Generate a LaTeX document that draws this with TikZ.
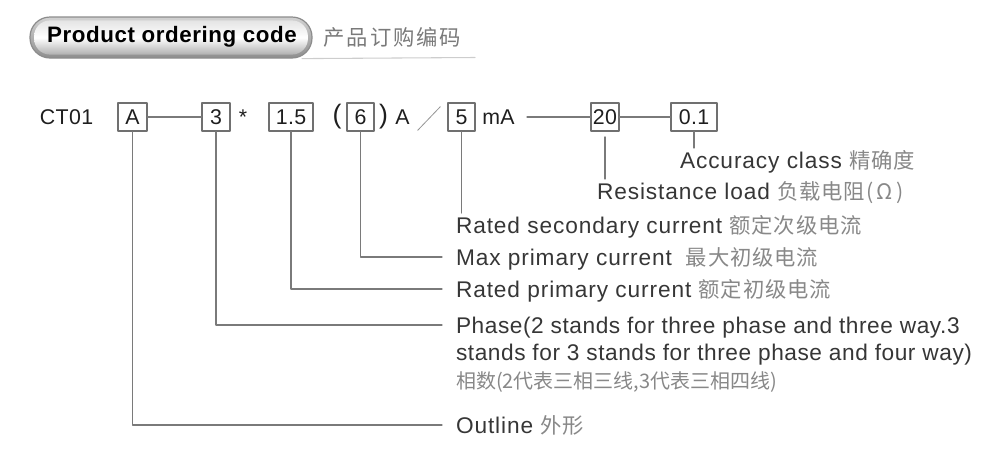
\documentclass[tikz,border=0pt]{standalone}
\usepackage{fontspec}
\setmainfont{Liberation Sans}
\newfontfamily\cdfam[LetterSpace=2]{Liberation Sans}
\newfontfamily\lbfam[LetterSpace=4]{Liberation Sans}
\newfontfamily\phfam[LetterSpace=2.5]{Liberation Sans}
\newfontfamily\hdfam[LetterSpace=2.5]{Liberation Sans}
\newfontfamily\cnfam[LetterSpace=4]{Noto Sans CJK SC}
\newfontfamily\cnhdfam[LetterSpace=9]{Noto Sans CJK SC}
\usepackage{xcolor}
\usepackage{tikz}
\definecolor{ink}{HTML}{1E1E1E}
\definecolor{labelgray}{HTML}{363636}
\definecolor{cngray}{HTML}{888888}
\definecolor{wiregray}{HTML}{7A7A7A}
\definecolor{boxgray}{HTML}{707070}
\definecolor{pillrim}{HTML}{8C8C8C}
\definecolor{pilltop}{HTML}{D2D2D2}
\definecolor{pillbot}{HTML}{8E8E8E}
\definecolor{rulegray}{HTML}{CDCDCD}
\newcommand\cdfont{\cdfam\fontsize{16}{19}\selectfont}
\newcommand\lbfont{\lbfam\fontsize{17}{20}\selectfont}
\newcommand\phfont{\phfam\fontsize{17}{20}\selectfont}
\newcommand\cntext[1]{{\cnfam\fontsize{16}{19}\selectfont\color{cngray}#1}}
\tikzset{
    every picture/.style={line cap=round,line join=round},
    pill/.style={draw=pillrim,line width=0.9pt,rounded corners=15pt,
      top color=pilltop,bottom color=pillbot,
      minimum width=211.5pt,minimum height=30.75pt,inner sep=0pt},
    codebox/.style={draw=boxgray,line width=0.9pt,inner sep=0pt,
      minimum height=21pt,text height=11.4pt,text depth=0pt,font=\cdfont,text=ink},
    codetext/.style={inner sep=0pt,text height=11.4pt,text depth=0pt,
      font=\cdfont,text=ink},
    paren/.style={inner sep=0pt,font=\cdfam\fontsize{20}{20}\selectfont,text=ink},
    wire/.style={draw=wiregray,line width=0.9pt},
    lbl/.style={anchor=west,inner xsep=0pt,inner ysep=2pt,outer xsep=10.5pt,
      outer ysep=0pt,text height=13pt,text depth=1pt,font=\lbfont,text=labelgray},
    phaselbl/.style={lbl,font=\phfont}
}

\begin{document}
\begin{tikzpicture}[x=0.75pt,y=-0.75pt]
  \useasboundingbox (0,0) rectangle (994,454);
  % heading
  \node[pill] (pill) at (171,37.5) {};
  \shade[rounded corners=12pt,top color=pilltop!60,bottom color=pillbot!70,middle color=white]
    ([xshift=3.5pt,yshift=3pt]pill.south west) rectangle ([xshift=-3.5pt,yshift=-3pt]pill.north east);
  \node[font=\hdfam\bfseries\fontsize{16.75}{20}\selectfont,text=black] (title) at (172,37) {Product ordering code};
  \node[font=\cnhdfam\fontsize{16}{19}\selectfont,text=cngray!90!black] (titlecn) at (392.5,37) {产品订购编码};
  \coordinate (ruleend) at (475,57.5);
  \draw[rulegray,line width=0.8pt] ([xshift=-8pt]pill.south east) -- (ruleend);

  % code row
  \node[codetext] (ct) at (66.5,117) {CT01};
  \node[codebox,minimum width=21.75pt] (bA) at (132.5,117) {A};
  \node[codebox,minimum width=21pt] (b3) at (216,117) {3};
  \node[codetext,anchor=base] (star) at (243,124) {*};
  \node[codebox,minimum width=33pt] (b15) at (291,117) {1.5};
  \node[paren] (lp) at (337,117) {(};
  \node[codebox,minimum width=20.25pt] (b6) at (360.5,117) {6};
  \node[paren] (rp) at (383.5,117) {)};
  \node[codetext] (unitA) at (402.5,117) {A};
  \node[minimum width=16.5pt,minimum height=17.25pt,inner sep=0pt] (slash) at (429,118.5) {};
  \draw[wiregray!80,line width=0.6pt] (slash.south west) -- (slash.north east);
  \node[codebox,minimum width=20.25pt] (b5) at (461.5,117) {5};
  \node[codetext] (mA) at (498.5,117) {mA};
  \node[codebox,minimum width=21pt] (b20) at (605,117) {20};
  \node[codebox,minimum width=34.5pt] (b01) at (694,117) {0.1};
  \draw[wire] (bA) -- (b3);
  \draw[wire,shorten <=9pt] (mA) -- (b20);
  \draw[wire] (b20) -- (b01);

  % labels
  \node[lbl] (lAcc) at (666,160) {Accuracy class \cntext{精确度}};
  \node[lbl] (lRes) at (583,191) {Resistance load \cntext{负载电阻(\,Ω\,)}};
  \node[lbl] (lSec) at (442,225) {Rated secondary current \cntext{额定次级电流}};
  \node[lbl] (lMax) at (442,257) {Max primary current\hspace{5pt} \cntext{最大初级电流}};
  \node[lbl] (lPri) at (442,289) {Rated primary current \cntext{额定初级电流}};
  \node[phaselbl] (lPhase) at (442,325) {Phase(2 stands for three phase and three way.3};
  \node[phaselbl] (lPhase2) at (442,352) {stands for 3 stands for three phase and four way)};
  \node[phaselbl] (lPhaseCn) at (442,380) {{\cnfam\fontsize{15}{18}\selectfont\addfontfeature{LetterSpace=0}\color{cngray}相数(2代表三相三线,3代表三相四线)}};
  \node[lbl] (lOut) at (442,425) {Outline \cntext{外形}};

  % leaders
  \draw[wire] (b01.south) -- (b01.south |- lAcc.north);
  \draw[wire,shorten <=4pt] (b20.south) -- (b20.south |- lRes.north);
  \draw[wire] (b5.south) -- (b5.south |- lSec.north);
  \draw[wire] (b6.south) |- (lMax.west);
  \draw[wire] (b15.south) |- (lPri.west);
  \draw[wire] (b3.south) |- (lPhase.west);
  \draw[wire] (bA.south) |- (lOut.west);
\end{tikzpicture}
\end{document}
